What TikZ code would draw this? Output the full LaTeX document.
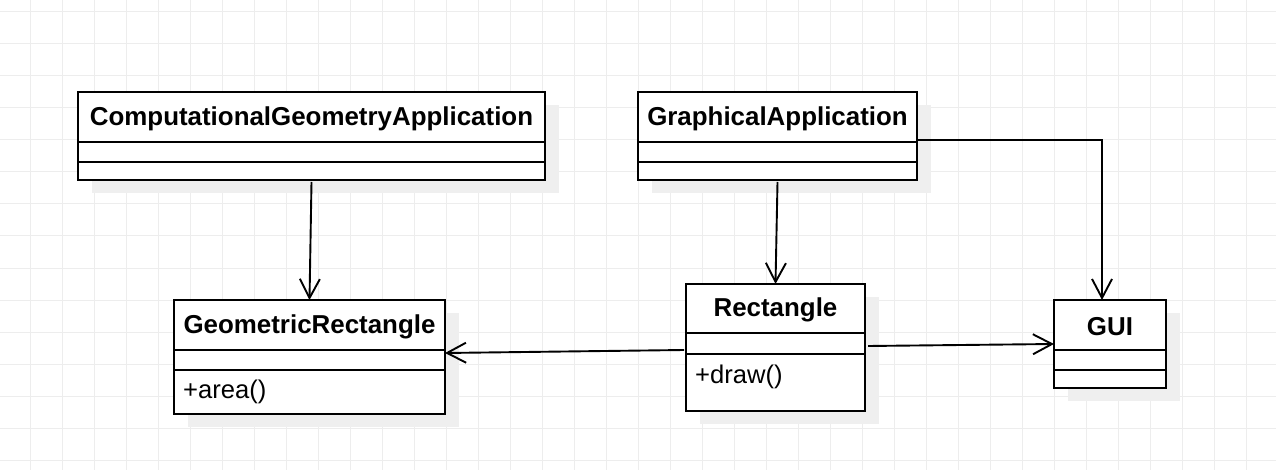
\documentclass[tikz,border=0pt]{standalone}
\usepackage{fontspec}
\setmainfont{Liberation Sans}
\usepackage{xcolor}
\usepackage{tikz}
\usetikzlibrary{arrows.meta, positioning, shadows}

\definecolor{gridgray}{HTML}{EDEDED}
\definecolor{shadowgray}{HTML}{EFEFEF}

\begin{document}
\begin{tikzpicture}[x=1pt, y=-1pt, >={Straight Barb[length=19pt, width=20pt]}]
    \tikzstyle{umlbox} = [rectangle, draw=black, fill=white, line width=1.9pt, inner sep=0pt, outer sep=0pt,
        drop shadow={shadow xshift=14pt, shadow yshift=-13pt, fill=shadowgray, opacity=1}]
    \tikzstyle{umlline} = [draw=black, line width=1.9pt]
    \tikzstyle{title} = [font=\fontsize{25.9}{30}\selectfont\bfseries, inner sep=0pt]
    \tikzstyle{method} = [font=\fontsize{25.6}{30}\selectfont, inner sep=0pt, anchor=west]
    \tikzstyle{assoc} = [->, line width=1.9pt]
    \tikzstyle{gridline} = [draw=gridgray, line width=1pt]

    % Canvas and background grid
    \useasboundingbox[fill=white] (0,0) rectangle (1276,470);
    \foreach \gx in {30,62,...,1276} \draw[gridline] (\gx,0) -- (\gx,470);
    \foreach \gy in {12,44,...,470} \draw[gridline] (0,\gy) -- (1276,\gy);

    % Class boxes
    \node (cga) [umlbox, minimum width=467pt, minimum height=88pt, anchor=north west] at (78,92) {};
    \node (ga) [umlbox, minimum width=279pt, minimum height=88pt, right=93pt of cga] {};
    \node (grect) [umlbox, minimum width=271pt, minimum height=114pt, below=120pt of cga, xshift=-2pt] {};
    \node (rect) [umlbox, minimum width=179pt, minimum height=127pt, below=104pt of ga, xshift=-2pt] {};
    \node (gui) [umlbox, minimum width=112pt, minimum height=88pt, right=189pt of rect, yshift=3.5pt] {};

    % Compartment separators
    \foreach \n in {cga, ga, grect, gui} {
        \draw[umlline] ([yshift=-50pt]\n.north west) -- ([yshift=-50pt]\n.north east);
        \draw[umlline] ([yshift=-70pt]\n.north west) -- ([yshift=-70pt]\n.north east);
    }
    \draw[umlline] ([yshift=-49pt]rect.north west) -- ([yshift=-49pt]rect.north east);
    \draw[umlline] ([yshift=-70pt]rect.north west) -- ([yshift=-70pt]rect.north east);

    % Class names and operations
    \node (cga-name) [title] at ([yshift=-27pt]cga.north) {ComputationalGeometryApplication};
    \node (ga-name) [title] at ([yshift=-27pt]ga.north) {GraphicalApplication};
    \node (grect-name) [title] at ([yshift=-27pt]grect.north) {GeometricRectangle};
    \node (rect-name) [title] at ([yshift=-26pt]rect.north) {Rectangle};
    \node (gui-name) [title] at ([yshift=-27pt]gui.north) {GUI};
    \node (grect-area) [method] at ([xshift=9pt, yshift=-92pt]grect.north west) {+area()};
    \node (rect-draw) [method] at ([xshift=9pt, yshift=-93pt]rect.north west) {+draw()};

    % Associations
    \draw[assoc] ([yshift=-2pt]cga.south) -- (grect.north);
    \draw[assoc] ([yshift=-2pt]ga.south) -- (rect.north);
    \draw[assoc] ([yshift=-4pt]ga.east) -| ([xshift=-8pt]gui.north);
    \draw[assoc] ([xshift=-2pt, yshift=-2.5pt]rect.west) -- ([yshift=4pt]grect.east);
    \draw[assoc] ([xshift=3pt, yshift=1.5pt]rect.east) -- (gui.west);
\end{tikzpicture}
\end{document}
